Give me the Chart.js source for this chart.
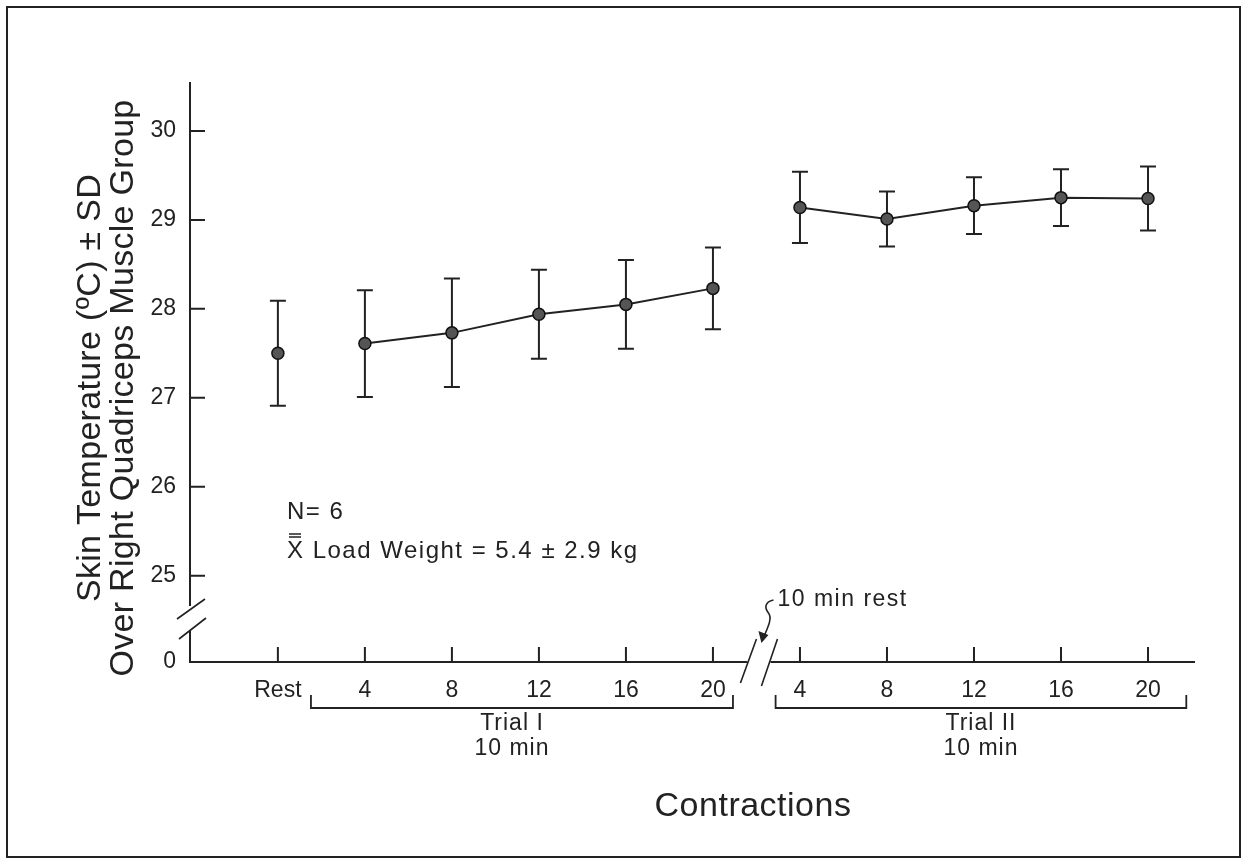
<!DOCTYPE html>
<html>
<head>
<meta charset="utf-8">
<script src="https://cdn.jsdelivr.net/npm/chart.js@4"></script>
<style>
  body { margin: 0; background: #fff; }
  #wrap { width: 1244px; height: 862px; position: relative; }
</style>
</head>
<body>
<div id="wrap"><canvas id="tempChart"></canvas></div>
<script>
// tick labels along the contraction axis (Rest, Trial I, Trial II)
const xLabels = ['Rest', '4', '8', '12', '16', '20', '4', '8', '12', '16', '20'];
const yTicks = [25, 26, 27, 28, 29, 30];

// skin temperature means and SDs
const restMean = [27.50];
const restSD = [0.59];
const trial1Mean = [27.61, 27.73, 27.94, 28.05, 28.23];
const trial1SD = [0.60, 0.61, 0.50, 0.50, 0.46];
const trial2Mean = [29.14, 29.01, 29.16, 29.25, 29.24];
const trial2SD = [0.40, 0.31, 0.32, 0.32, 0.36];

const ink = '#222';
const font = '"Liberation Sans", Arial, Helvetica, sans-serif';
const yMin = 24.03;   // bottom of the broken axis, labelled 0

const toPoints = (means, sds, start) =>
    means.map((m, i) => ({ x: start + i, y: m, sd: sds[i] }));

const pointStyle = {
    borderColor: ink,
    borderWidth: 2,
    pointRadius: 6,
    pointBackgroundColor: '#555',
    pointBorderColor: '#111',
    pointBorderWidth: 1.5,
    tension: 0,
    fill: false
};

// error bars, axes with breaks, brackets and notes
const decorations = {
    id: 'decorations',
    beforeDatasetsDraw(chart) {
        const { ctx, scales: { x, y } } = chart;
        ctx.save();
        ctx.strokeStyle = ink;
        ctx.lineWidth = 2;
        chart.data.datasets.forEach(ds => {
            ds.data.forEach(p => {
                const px = x.getPixelForValue(p.x);
                const top = y.getPixelForValue(p.y + p.sd);
                const bot = y.getPixelForValue(p.y - p.sd);
                ctx.beginPath();
                ctx.moveTo(px, top); ctx.lineTo(px, bot);
                ctx.moveTo(px - 8, top); ctx.lineTo(px + 8, top);
                ctx.moveTo(px - 8, bot); ctx.lineTo(px + 8, bot);
                ctx.stroke();
            });
        });
        ctx.restore();
    },
    afterDraw(chart) {
        const { ctx, chartArea: a, scales: { x, y } } = chart;
        ctx.save();
        ctx.strokeStyle = ink;
        ctx.fillStyle = ink;
        ctx.lineWidth = 2;

        // frame
        ctx.strokeRect(7, 7, 1233, 850);

        // y axis with break
        const ax = a.left, ay = a.bottom;
        const bx = x.getPixelForValue(5.5);
        ctx.beginPath();
        ctx.moveTo(ax, a.top); ctx.lineTo(ax, ay - 56);
        ctx.moveTo(ax, ay - 32); ctx.lineTo(ax, ay);
        ctx.lineTo(bx - 9, ay);
        ctx.moveTo(bx + 14, ay); ctx.lineTo(a.right, ay);
        ctx.stroke();
        ctx.lineWidth = 1.6;
        ctx.beginPath();
        ctx.moveTo(ax - 13, ay - 43); ctx.lineTo(ax + 15, ay - 63);
        ctx.moveTo(ax - 11, ay - 23); ctx.lineTo(ax + 16, ay - 44);
        // x axis break
        ctx.moveTo(bx - 16, ay + 21); ctx.lineTo(bx, ay - 23);
        ctx.moveTo(bx + 5, ay + 24); ctx.lineTo(bx + 21, ay - 23);
        ctx.stroke();

        // tick marks pointing into the plot
        ctx.lineWidth = 2;
        ctx.beginPath();
        yTicks.forEach(v => {
            const py = y.getPixelForValue(v);
            ctx.moveTo(ax, py); ctx.lineTo(ax + 15, py);
        });
        xLabels.forEach((_, i) => {
            const px = x.getPixelForValue(i);
            ctx.moveTo(px, ay); ctx.lineTo(px, ay - 15);
        });
        ctx.stroke();

        // trial brackets
        const bracket = (from, to) => {
            const x0 = x.getPixelForValue(from), x1 = x.getPixelForValue(to);
            ctx.beginPath();
            ctx.moveTo(x0, ay + 33); ctx.lineTo(x0, ay + 46);
            ctx.lineTo(x1, ay + 46); ctx.lineTo(x1, ay + 33);
            ctx.stroke();
            return (x0 + x1) / 2;
        };
        ctx.lineWidth = 1.8;
        const c1 = bracket(0.38, 5.23);
        const c2 = bracket(5.72, 10.44);

        ctx.font = '23px ' + font;
        ctx.letterSpacing = '1px';
        ctx.textAlign = 'center';
        ctx.textBaseline = 'middle';
        ctx.fillText('Trial I', c1 - 10, ay + 62);
        ctx.fillText('10 min', c1 - 10, ay + 87);
        ctx.fillText('Trial II', c2, ay + 62);
        ctx.fillText('10 min', c2, ay + 87);

        // rest note with squiggle arrow
        ctx.textAlign = 'left';
        ctx.letterSpacing = '1.5px';
        ctx.fillText('10 min rest', bx + 21, ay - 62);
        ctx.lineWidth = 1.6;
        ctx.beginPath();
        ctx.moveTo(bx + 17, ay - 62);
        ctx.bezierCurveTo(bx + 8, ay - 60, bx + 8, ay - 54, bx + 12, ay - 49);
        ctx.bezierCurveTo(bx + 16, ay - 44, bx + 12, ay - 36, bx + 6, ay - 22);
        ctx.stroke();
        ctx.beginPath();
        ctx.moveTo(bx + 5, ay - 19);
        ctx.lineTo(bx + 2, ay - 31);
        ctx.lineTo(bx + 12, ay - 27);
        ctx.closePath();
        ctx.fill();

        // sample notes
        ctx.font = '24px ' + font;
        ctx.fillText('N= 6', 287, 512);
        ctx.fillText('X Load Weight = 5.4 \u00b1 2.9 kg', 287, 551);
        ctx.lineWidth = 1.6;
        ctx.beginPath();
        ctx.moveTo(289, 534); ctx.lineTo(301, 534);
        ctx.moveTo(289, 537); ctx.lineTo(301, 537);
        ctx.stroke();

        // axis titles
        ctx.font = '34px ' + font;
        ctx.letterSpacing = '0.5px';
        ctx.textAlign = 'center';
        ctx.fillText('Contractions', 753, 807);

        ctx.font = '34px ' + font;
        ctx.letterSpacing = '0.3px';
        ctx.translate(91, 388);
        ctx.rotate(-Math.PI / 2);
        ctx.fillText('Skin Temperature (\u00baC) \u00b1 SD', 0, 0);
        ctx.fillText('Over Right Quadriceps Muscle Group', 0, 33);
        ctx.restore();
    }
};

new Chart(document.getElementById('tempChart'), {
    type: 'line',
    data: {
        datasets: [
            { label: 'Rest', data: toPoints(restMean, restSD, 0), showLine: false, ...pointStyle },
            { label: 'Trial I', data: toPoints(trial1Mean, trial1SD, 1), ...pointStyle },
            { label: 'Trial II', data: toPoints(trial2Mean, trial2SD, 6), ...pointStyle }
        ]
    },
    options: {
        responsive: true,
        maintainAspectRatio: false,
        animation: false,
        layout: { padding: { top: 82, right: 49, left: 0, bottom: 0 } },
        plugins: { legend: { display: false }, tooltip: { enabled: false } },
        scales: {
            x: {
                type: 'linear',
                min: -1.01,
                max: 10.54,
                grid: { display: false, drawTicks: false },
                border: { display: false },
                afterBuildTicks: s => { s.ticks = xLabels.map((_, i) => ({ value: i })); },
                afterFit: s => { s.height = 200; },
                ticks: {
                    autoSkip: false,
                    maxRotation: 0,
                    padding: 15,
                    color: ink,
                    font: { family: font, size: 23 },
                    callback: v => xLabels[v]
                }
            },
            y: {
                min: yMin,
                max: 30.55,
                grid: { display: false, drawTicks: false },
                border: { display: false },
                afterBuildTicks: s => {
                    s.ticks = [{ value: yMin }].concat(yTicks.map(v => ({ value: v })));
                },
                afterFit: s => { s.width = 190; },
                ticks: {
                    padding: 14,
                    color: ink,
                    font: { family: font, size: 23 },
                    callback: v => (v === yMin ? '0' : v)
                }
            }
        }
    },
    plugins: [decorations]
});
</script>
</body>
</html>
